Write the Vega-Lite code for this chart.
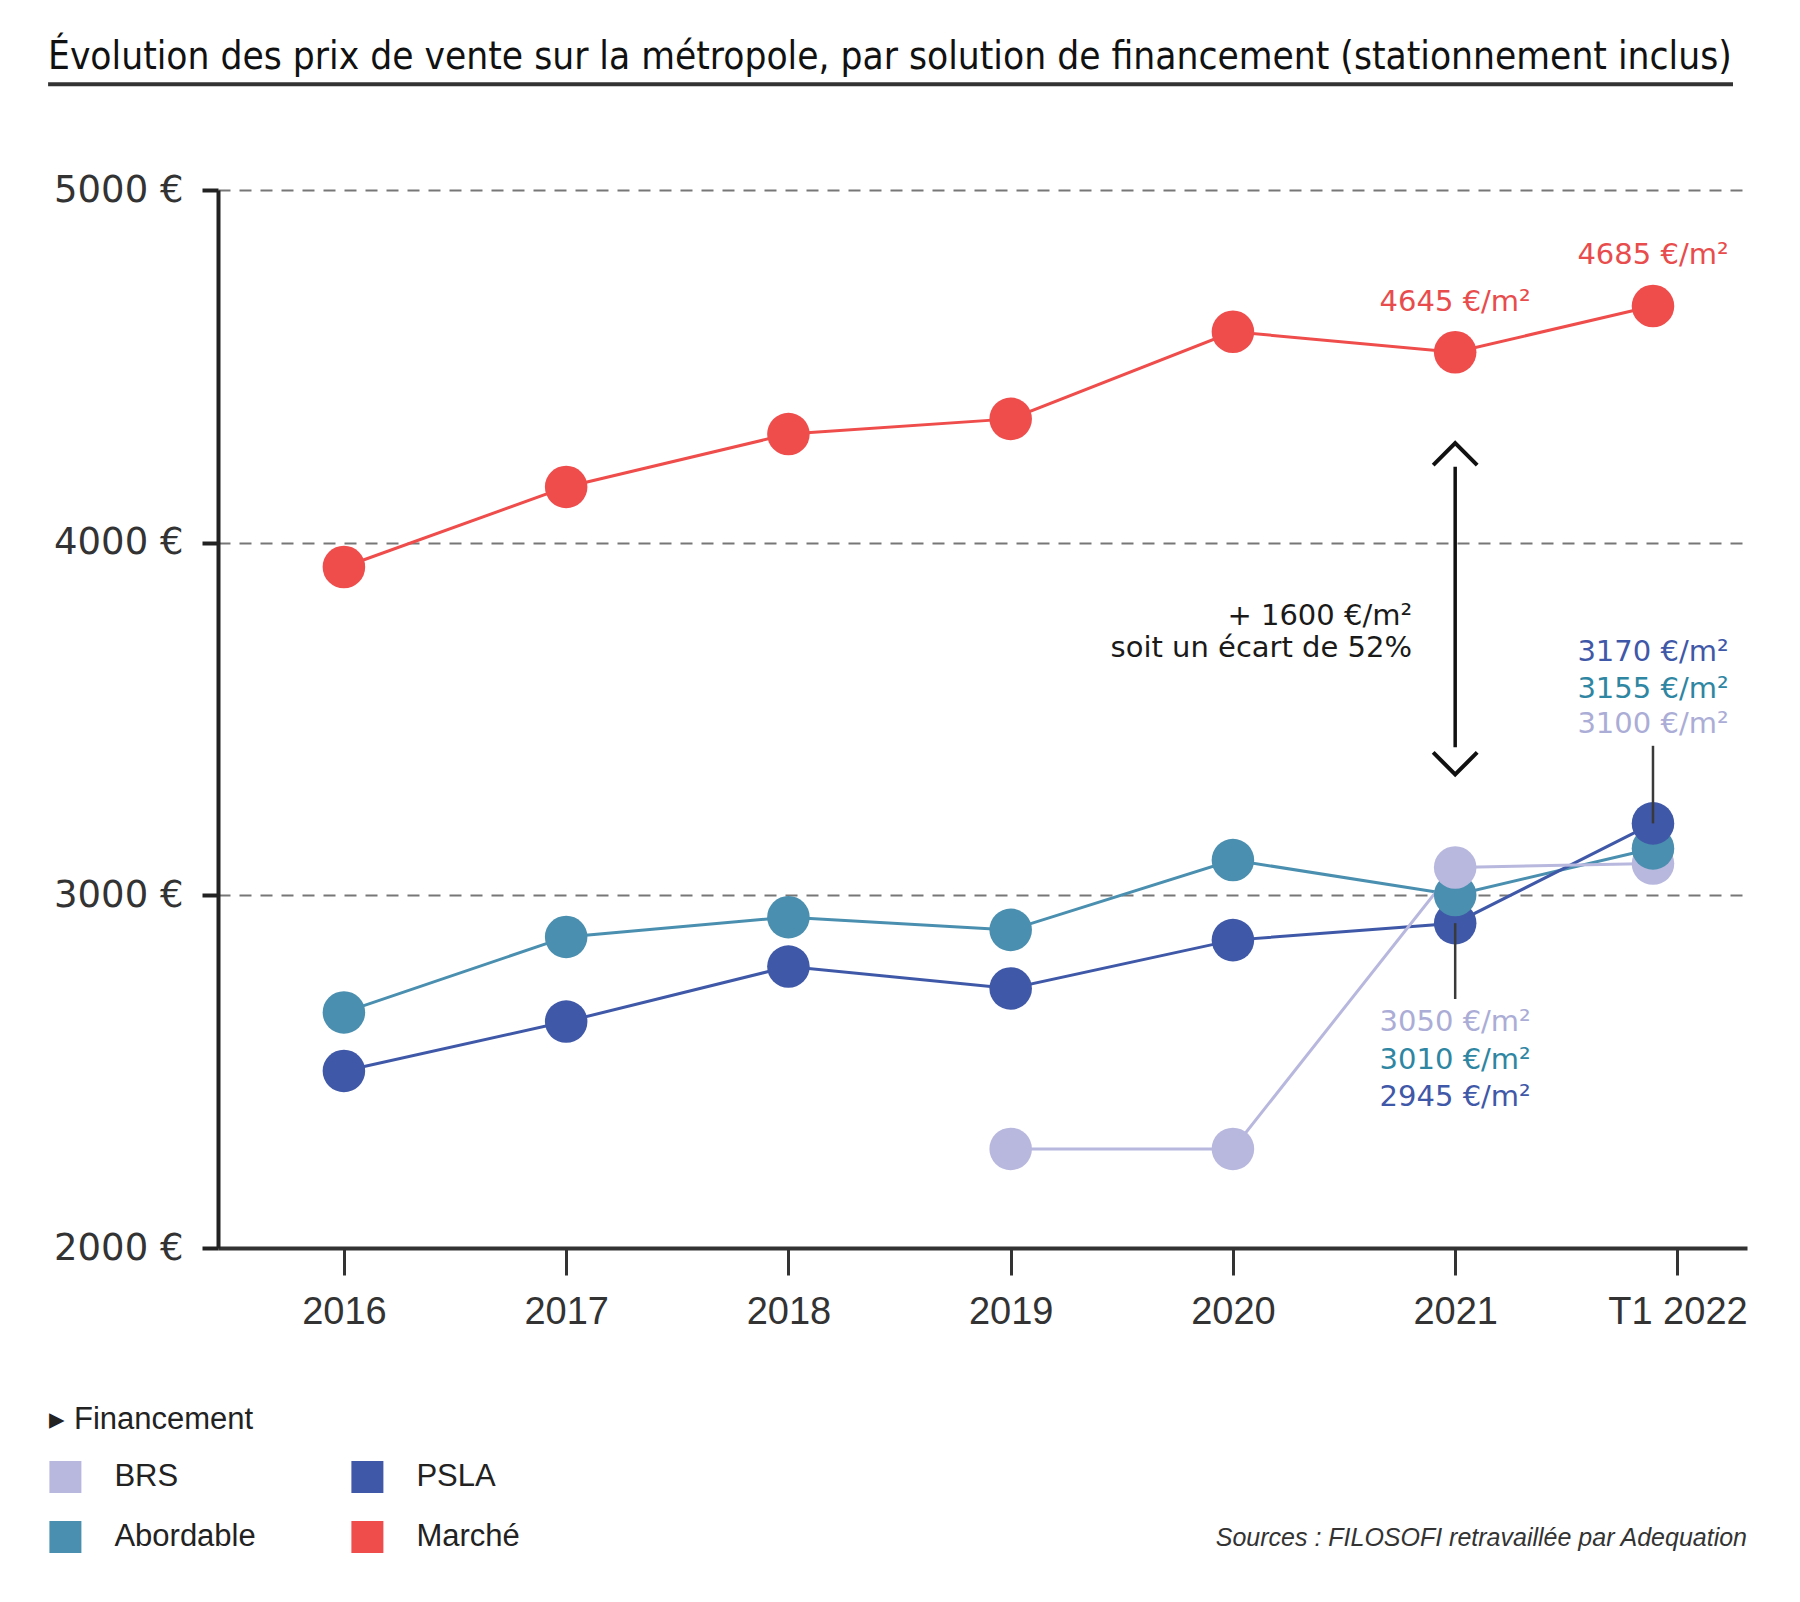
{
  "$schema": "https://vega.github.io/schema/vega-lite/v6.json",
  "width": 1529,
  "height": 1058,
  "autosize": "none",
  "padding": {"left": 218, "top": 190, "right": 53, "bottom": 354},
  "background": "white",
  "title": {
    "text": "Évolution des prix de vente sur la métropole, par solution de financement (stationnement inclus)",
    "anchor": "start",
    "frame": "group",
    "dx": -170,
    "offset": 5,
    "font": "DejaVu Sans Condensed, Roboto Condensed, Liberation Sans Narrow, Roboto",
    "fontSize": 38.5,
    "fontWeight": 500,
    "color": "#111111"
  },
  "config": {
    "view": {"stroke": null}
  },
  "datasets": {
    "prix": [
      {"periode": "2016", "annee": 2016, "financement": "Marché", "prix": 3931},
      {"periode": "2017", "annee": 2017, "financement": "Marché", "prix": 4158},
      {"periode": "2018", "annee": 2018, "financement": "Marché", "prix": 4308},
      {"periode": "2019", "annee": 2019, "financement": "Marché", "prix": 4351},
      {"periode": "2020", "annee": 2020, "financement": "Marché", "prix": 4598},
      {"periode": "2021", "annee": 2021, "financement": "Marché", "prix": 4540},
      {"periode": "T1 2022", "annee": 2021.89, "financement": "Marché", "prix": 4671},
      {"periode": "2016", "annee": 2016, "financement": "Abordable", "prix": 2668},
      {"periode": "2017", "annee": 2017, "financement": "Abordable", "prix": 2882},
      {"periode": "2018", "annee": 2018, "financement": "Abordable", "prix": 2938},
      {"periode": "2019", "annee": 2019, "financement": "Abordable", "prix": 2902},
      {"periode": "2020", "annee": 2020, "financement": "Abordable", "prix": 3100},
      {"periode": "2021", "annee": 2021, "financement": "Abordable", "prix": 3001},
      {"periode": "T1 2022", "annee": 2021.89, "financement": "Abordable", "prix": 3133},
      {"periode": "2016", "annee": 2016, "financement": "PSLA", "prix": 2502},
      {"periode": "2017", "annee": 2017, "financement": "PSLA", "prix": 2642},
      {"periode": "2018", "annee": 2018, "financement": "PSLA", "prix": 2798},
      {"periode": "2019", "annee": 2019, "financement": "PSLA", "prix": 2736},
      {"periode": "2020", "annee": 2020, "financement": "PSLA", "prix": 2873},
      {"periode": "2021", "annee": 2021, "financement": "PSLA", "prix": 2921},
      {"periode": "T1 2022", "annee": 2021.89, "financement": "PSLA", "prix": 3204},
      {"periode": "2019", "annee": 2019, "financement": "BRS", "prix": 2281},
      {"periode": "2020", "annee": 2020, "financement": "BRS", "prix": 2281},
      {"periode": "2021", "annee": 2021, "financement": "BRS", "prix": 3079},
      {"periode": "T1 2022", "annee": 2021.89, "financement": "BRS", "prix": 3090}
    ],
    "one": [{}]
  },
  "layer": [
    {
      "data": {"name": "prix"},
      "mark": {"type": "line", "strokeWidth": 3},
      "encoding": {
        "x": {
          "field": "annee", "type": "quantitative",
          "scale": {"domain": [2015.4335, 2022.313], "nice": false, "zero": false},
          "axis": {
            "title": null,
            "values": [2016, 2017, 2018, 2019, 2020, 2021, 2022],
            "format": "d",
            "labelExpr": "datum.value == 2022 ? 'T1 2022' : datum.label",
            "labelFont": "Liberation Sans",
            "labelFontSize": 38,
            "labelColor": "#333333",
            "labelPadding": 18,
            "labelFlush": false,
            "labelOverlap": false,
            "tickSize": 27,
            "tickWidth": 3,
            "tickColor": "#333333",
            "domainColor": "#333333",
            "domainWidth": 4,
            "grid": false
          }
        },
        "y": {
          "field": "prix", "type": "quantitative",
          "scale": {"domain": [2000, 5000], "nice": false, "zero": false},
          "axis": {
            "title": null,
            "values": [2000, 3000, 4000, 5000],
            "format": "d",
            "labelExpr": "datum.label + ' €'",
            "labelFont": "DejaVu Sans",
            "labelFontSize": 37,
            "labelColor": "#333333",
            "labelPadding": 19,
            "tickSize": 16,
            "tickWidth": 4,
            "tickColor": "#222222",
            "domainColor": "#222222",
            "domainWidth": 4,
            "grid": true,
            "gridColor": "#777777",
            "gridDash": [12, 9],
            "gridWidth": 2
          }
        },
        "color": {
          "field": "financement", "type": "nominal",
          "scale": {"domain": ["BRS", "Abordable", "PSLA", "Marché"], "range": ["#B8B8DF", "#4A8FAF", "#3F58A8", "#EF4C4C"]}
        }
      }
    },
    {
      "data": {"name": "one"},
      "mark": {"type": "rule", "color": "#333333", "strokeWidth": 4},
      "encoding": {
        "x": {"datum": 2014.669, "type": "quantitative"},
        "x2": {"datum": 2022.25},
        "y": {"datum": 5300, "type": "quantitative"}
      }
    },
    {
      "data": {"name": "prix"},
      "mark": {"type": "circle", "size": 1810, "opacity": 1},
      "encoding": {
        "x": {"field": "annee", "type": "quantitative"},
        "y": {"field": "prix", "type": "quantitative"},
        "order": {"field": "prix", "type": "quantitative", "sort": "ascending"},
        "color": {
          "field": "financement", "type": "nominal",
          "legend": {
            "title": "▸ Financement",
            "orient": "none",
            "legendX": -168.6,
            "legendY": 1215,
            "columns": 2,
            "symbolType": "square",
            "symbolSize": 1024,
            "symbolStrokeWidth": 0,
            "symbolOpacity": 1,
            "labelFont": "Liberation Sans",
            "labelFontSize": 31,
            "labelColor": "#222222",
            "labelOffset": 33,
            "labelLimit": 400,
            "titleFont": "Liberation Sans",
            "titleFontSize": 31,
            "titleFontWeight": "normal",
            "titleColor": "#222222",
            "titleLimit": 600,
            "titlePadding": 25,
            "rowPadding": 28,
            "columnPadding": 95,
            "padding": 0
          }
        }
      }
    },
    {
      "data": {"name": "one"},
      "mark": {"type": "rule", "color": "#3a3a3a", "strokeWidth": 2.5},
      "encoding": {
        "x": {"datum": 2021.89, "type": "quantitative"},
        "y": {"datum": 3204, "type": "quantitative"},
        "y2": {"datum": 3424}
      }
    },
    {
      "data": {"name": "one"},
      "mark": {"type": "rule", "color": "#3a3a3a", "strokeWidth": 2.5},
      "encoding": {
        "x": {"datum": 2021, "type": "quantitative"},
        "y": {"datum": 2921, "type": "quantitative"},
        "y2": {"datum": 2706}
      }
    },
    {
      "data": {"name": "one"},
      "mark": {"type": "rule", "color": "#111111", "strokeWidth": 3.5},
      "encoding": {
        "x": {"datum": 2021, "type": "quantitative"},
        "y": {"datum": 4215, "type": "quantitative"},
        "y2": {"datum": 3420}
      }
    },
    {
      "data": {"name": "one"},
      "mark": {"type": "point", "shape": "M-1,0.5L0,-0.5L1,0.5", "filled": false, "color": "#111111", "strokeWidth": 4, "size": 1936, "opacity": 1},
      "encoding": {
        "x": {"datum": 2021, "type": "quantitative"},
        "y": {"datum": 4251, "type": "quantitative"}
      }
    },
    {
      "data": {"name": "one"},
      "mark": {"type": "point", "shape": "M-1,-0.5L0,0.5L1,-0.5", "filled": false, "color": "#111111", "strokeWidth": 4, "size": 1936, "opacity": 1},
      "encoding": {
        "x": {"datum": 2021, "type": "quantitative"},
        "y": {"datum": 3374, "type": "quantitative"}
      }
    },
    {
      "data": {"name": "one"},
      "mark": {"type": "text", "font": "DejaVu Sans", "fontSize": 29, "color": "#E84C4C", "align": "center", "baseline": "middle"},
      "encoding": {
        "x": {"datum": 2021, "type": "quantitative"},
        "y": {"datum": 4683, "type": "quantitative"},
        "text": {"value": "4645 €/m²"}
      }
    },
    {
      "data": {"name": "one"},
      "mark": {"type": "text", "font": "DejaVu Sans", "fontSize": 29, "color": "#E84C4C", "align": "center", "baseline": "middle"},
      "encoding": {
        "x": {"datum": 2021.89, "type": "quantitative"},
        "y": {"datum": 4816, "type": "quantitative"},
        "text": {"value": "4685 €/m²"}
      }
    },
    {
      "data": {"name": "one"},
      "mark": {"type": "text", "font": "DejaVu Sans", "fontSize": 29, "color": "#1a1a1a", "align": "right", "baseline": "middle"},
      "encoding": {
        "x": {"datum": 2020.806, "type": "quantitative"},
        "y": {"datum": 3791, "type": "quantitative"},
        "text": {"value": "+ 1600 €/m²"}
      }
    },
    {
      "data": {"name": "one"},
      "mark": {"type": "text", "font": "DejaVu Sans", "fontSize": 29, "color": "#1a1a1a", "align": "right", "baseline": "middle"},
      "encoding": {
        "x": {"datum": 2020.806, "type": "quantitative"},
        "y": {"datum": 3700, "type": "quantitative"},
        "text": {"value": "soit un écart de 52%"}
      }
    },
    {
      "data": {"name": "one"},
      "mark": {"type": "text", "font": "DejaVu Sans", "fontSize": 29, "color": "#3F58A8", "align": "center", "baseline": "middle"},
      "encoding": {
        "x": {"datum": 2021.89, "type": "quantitative"},
        "y": {"datum": 3690, "type": "quantitative"},
        "text": {"value": "3170 €/m²"}
      }
    },
    {
      "data": {"name": "one"},
      "mark": {"type": "text", "font": "DejaVu Sans", "fontSize": 29, "color": "#2E86A2", "align": "center", "baseline": "middle"},
      "encoding": {
        "x": {"datum": 2021.89, "type": "quantitative"},
        "y": {"datum": 3586, "type": "quantitative"},
        "text": {"value": "3155 €/m²"}
      }
    },
    {
      "data": {"name": "one"},
      "mark": {"type": "text", "font": "DejaVu Sans", "fontSize": 29, "color": "#ABADD6", "align": "center", "baseline": "middle"},
      "encoding": {
        "x": {"datum": 2021.89, "type": "quantitative"},
        "y": {"datum": 3485, "type": "quantitative"},
        "text": {"value": "3100 €/m²"}
      }
    },
    {
      "data": {"name": "one"},
      "mark": {"type": "text", "font": "DejaVu Sans", "fontSize": 29, "color": "#ABADD6", "align": "center", "baseline": "middle"},
      "encoding": {
        "x": {"datum": 2021, "type": "quantitative"},
        "y": {"datum": 2642, "type": "quantitative"},
        "text": {"value": "3050 €/m²"}
      }
    },
    {
      "data": {"name": "one"},
      "mark": {"type": "text", "font": "DejaVu Sans", "fontSize": 29, "color": "#2E86A2", "align": "center", "baseline": "middle"},
      "encoding": {
        "x": {"datum": 2021, "type": "quantitative"},
        "y": {"datum": 2534, "type": "quantitative"},
        "text": {"value": "3010 €/m²"}
      }
    },
    {
      "data": {"name": "one"},
      "mark": {"type": "text", "font": "DejaVu Sans", "fontSize": 29, "color": "#3F58A8", "align": "center", "baseline": "middle"},
      "encoding": {
        "x": {"datum": 2021, "type": "quantitative"},
        "y": {"datum": 2427, "type": "quantitative"},
        "text": {"value": "2945 €/m²"}
      }
    },
    {
      "data": {"name": "one"},
      "mark": {"type": "text", "font": "Liberation Sans", "fontSize": 25, "fontStyle": "italic", "color": "#333333", "align": "right", "baseline": "middle"},
      "encoding": {
        "x": {"datum": 2022.313, "type": "quantitative"},
        "y": {"datum": 1178, "type": "quantitative"},
        "text": {"value": "Sources : FILOSOFI retravaillée par Adequation"}
      }
    }
  ]
}
